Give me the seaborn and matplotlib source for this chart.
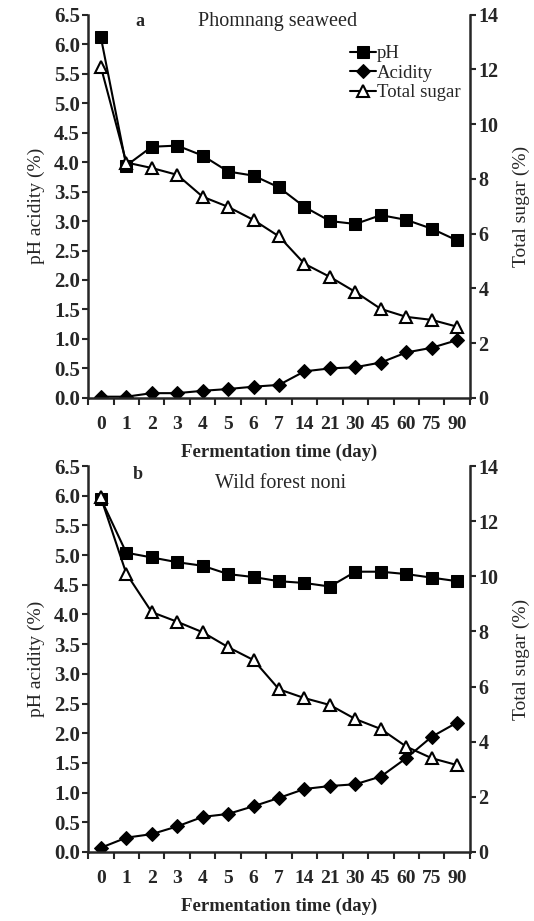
import matplotlib
matplotlib.use("Agg")
import matplotlib.pyplot as plt
import seaborn as sns
import pandas as pd
import numpy as np

days = ["0", "1", "2", "3", "4", "5", "6", "7", "14", "21", "30", "45", "60", "75", "90"]

ph_a = [6.12, 3.94, 4.26, 4.28, 4.11, 3.84, 3.77, 3.57, 3.24, 3.00, 2.95, 3.10, 3.02, 2.87, 2.67]
acid_a = [0.02, 0.02, 0.08, 0.08, 0.12, 0.15, 0.19, 0.22, 0.45, 0.50, 0.52, 0.60, 0.77, 0.85, 0.98]
sugar_a = [12.1, 8.6, 8.4, 8.15, 7.35, 6.98, 6.5, 5.9, 4.9, 4.42, 3.87, 3.25, 2.96, 2.85, 2.6]

ph_b = [5.95, 5.04, 4.96, 4.88, 4.82, 4.68, 4.63, 4.56, 4.53, 4.47, 4.72, 4.72, 4.68, 4.62, 4.56]
acid_b = [0.07, 0.24, 0.30, 0.43, 0.59, 0.64, 0.77, 0.91, 1.06, 1.11, 1.14, 1.27, 1.58, 1.94, 2.18]
sugar_b = [12.86, 10.1, 8.7, 8.35, 7.97, 7.43, 6.96, 5.9, 5.58, 5.33, 4.82, 4.46, 3.82, 3.4, 3.15]

panels = [("a", "Phomnang seaweed", ph_a, acid_a, sugar_a),
          ("b", "Wild forest noni", ph_b, acid_b, sugar_b)]

sns.set_theme(style="ticks")
plt.rcParams['font.family'] = ['Liberation Serif', 'DejaVu Serif']
plt.rcParams['axes.linewidth'] = 1.8

fig = plt.figure(figsize=(5.34, 9.21), dpi=100)
rects = [[0.165, 0.568, 0.715, 0.416], [0.165, 0.075, 0.715, 0.419]]
title_pos = {"a": (0.497, 0.982), "b": (0.503, 0.956)}
tag_pos = {"a": (0.123, 0.982), "b": (0.118, 0.977)}

pos = np.arange(len(days))
for (tag, title, ph, acid, sugar), r in zip(panels, rects):
    ax = fig.add_axes(r)
    ax2 = ax.twinx()
    df = pd.DataFrame({"x": pos, "pH": ph, "Acidity": acid, "Total sugar": sugar})
    sns.lineplot(data=df, x="x", y="pH", ax=ax, color="black", marker="s", markersize=9,
                 markeredgecolor="black", linewidth=1.5, label="pH", legend=False)
    sns.lineplot(data=df, x="x", y="Acidity", ax=ax, color="black", marker="D", markersize=7.5,
                 markeredgecolor="black", linewidth=1.5, label="Acidity", legend=False)
    sns.lineplot(data=df, x="x", y="Total sugar", ax=ax2, color="black", marker="^", markersize=8.5,
                 markerfacecolor="white", markeredgecolor="black", markeredgewidth=1.5,
                 linewidth=1.5, label="Total sugar", legend=False)

    ax.set_xlim(-0.5, len(days) - 0.5)
    ax.set_ylim(0, 6.5)
    ax2.set_ylim(0, 14)
    ax.set_yticks(np.arange(0, 6.51, 0.5))
    ax.set_yticklabels([f"{v:.1f}" for v in np.arange(0, 6.51, 0.5)])
    ax2.set_yticks(np.arange(0, 14.1, 2))
    ax2.set_yticklabels([str(int(v)) for v in np.arange(0, 14.1, 2)])

    ax.set_xticks(pos)
    ax.set_xticklabels(days)
    ax.set_xticks(np.arange(-0.5, len(days), 1.0), minor=True)
    ax.tick_params(axis="x", which="major", length=0, pad=13, labelsize=14)
    ax.tick_params(axis="x", which="minor", length=5, width=1.5, direction="out")
    ax.tick_params(axis="y", length=4, width=1.5, direction="out", labelsize=15, pad=2)
    ax2.tick_params(axis="y", length=4, width=1.5, direction="out", labelsize=14.5, pad=2)
    for lab in ax.get_xticklabels() + ax.get_yticklabels() + ax2.get_yticklabels():
        lab.set_fontweight("bold")

    for a in (ax, ax2):
        a.spines["top"].set_visible(False)
        a.spines["left"].set_linewidth(1.8)
        a.spines["right"].set_linewidth(1.8)
        a.spines["bottom"].set_linewidth(1.8)
    ax.spines["right"].set_visible(False)
    ax2.spines["left"].set_visible(False)
    ax2.spines["bottom"].set_visible(False)

    ax.set_xlabel("Fermentation time (day)", fontsize=13.5, fontweight="bold", labelpad=8)
    ax.set_ylabel("pH acidity (%)", fontsize=14, labelpad=6)
    ax2.set_ylabel("Total sugar (%)", fontsize=14, labelpad=10)

    tx, tyy = tag_pos[tag]
    ax.text(tx, tyy, tag, transform=ax.transAxes, fontsize=13, fontweight="bold",
            ha="left", va="center")
    hx, hy = title_pos[tag]
    ax.text(hx, hy, title, transform=ax.transAxes, fontsize=14.5,
            ha="center", va="center")

    if tag == "a":
        h1, l1 = ax.get_legend_handles_labels()
        h2, l2 = ax2.get_legend_handles_labels()
        ax.legend(h1 + h2, l1 + l2, loc="upper right", bbox_to_anchor=(0.985, 0.93),
                  frameon=False, fontsize=13.5, handlelength=1.4, handletextpad=0.05,
                  labelspacing=0.12, borderaxespad=0.1, borderpad=0.1)

fig.savefig("out.png", dpi=100)
